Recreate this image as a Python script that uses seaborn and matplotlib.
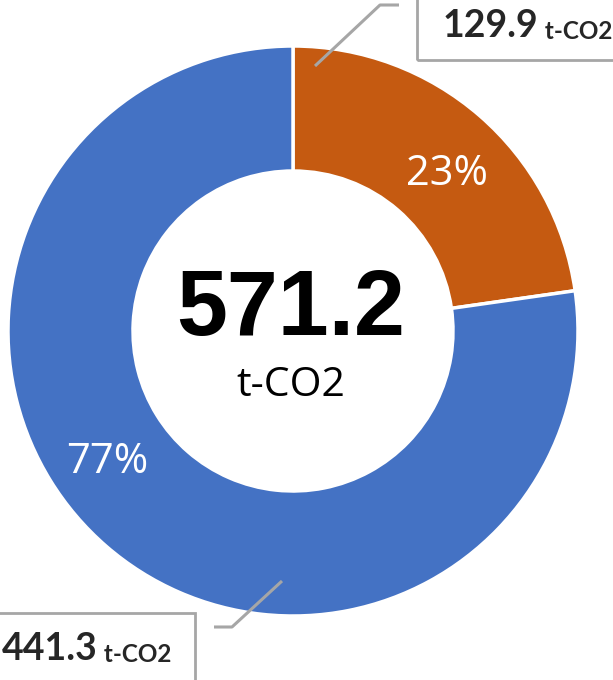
import numpy as np
import matplotlib
matplotlib.use("Agg")
import matplotlib.pyplot as plt
import seaborn as sns
from matplotlib.patches import Rectangle

# ---- data ----
categories = ["Category A", "Category B"]
values = [129.9, 441.3]
total_label = "571.2"
unit = "t-CO2"
value_labels = ["129.9", "441.3"]
colors = ["#C55A11", "#4472C4"]

sns.set_theme(style="white")
plt.rcParams["font.family"] = ["Open Sans", "DejaVu Sans"]

W, H = 613, 680
fig = plt.figure(figsize=(W / 100, H / 100), dpi=100)
ax = fig.add_axes([0, 0, 1, 1])

cx, cy = 293, H - 331
R, r_in = 285, 160

wedges, _ = ax.pie(values, colors=colors, startangle=90, counterclock=False,
                   radius=R, center=(cx, cy),
                   wedgeprops=dict(width=R - r_in, edgecolor="white", linewidth=2.5))
ax.set_xlim(0, W)
ax.set_ylim(0, H)
ax.set_aspect("equal")
ax.axis("off")

# percentage labels
total = sum(values)
pct_angles = [45.4, 215.3]
pct_radii = [220, 227]
for v, a, rr in zip(values, pct_angles, pct_radii):
    t = np.deg2rad(a)
    ax.text(cx + rr * np.cos(t), cy + rr * np.sin(t), f"{round(v / total * 100)}%",
            color="white", fontsize=30, ha="center", va="center")

# center text
ax.text(cx - 2, H - 311, total_label, fontsize=66, fontweight="bold",
        family=["Liberation Sans", "DejaVu Sans"], ha="center", va="center", color="black")
ax.text(cx - 2, H - 386, unit, fontsize=29.5, ha="center", va="center", color="black")

gray = "#A6A6A6"
# top annotation
ax.plot([315, 380, 399], [H - 66, H - 5, H - 5], color=gray, lw=2.2, solid_capstyle="butt")
ax.add_patch(Rectangle((417, H - 60), 260, 80, fill=False, edgecolor=gray, lw=2, clip_on=False))
t1 = ax.text(443, H - 37, value_labels[0], fontsize=27, fontweight="bold",
             family=["Lato", "DejaVu Sans"], ha="left", va="baseline")
ax.annotate(" " + unit, xycoords=t1, xy=(1, 0), va="bottom", ha="left",
            fontsize=17.5, fontweight="bold", family=["Lato", "DejaVu Sans"])

# bottom annotation
ax.plot([282, 232, 214], [H - 581, H - 627, H - 627], color=gray, lw=2.2, solid_capstyle="butt")
ax.add_patch(Rectangle((-20, H - 700), 215, 87, fill=False, edgecolor=gray, lw=2, clip_on=False))
t2 = ax.text(2, H - 660, value_labels[1], fontsize=27, fontweight="bold",
             family=["Lato", "DejaVu Sans"], ha="left", va="baseline")
ax.annotate(" " + unit, xycoords=t2, xy=(1, 0), va="bottom", ha="left",
            fontsize=17.5, fontweight="bold", family=["Lato", "DejaVu Sans"])

fig.savefig("out.png", dpi=100)
